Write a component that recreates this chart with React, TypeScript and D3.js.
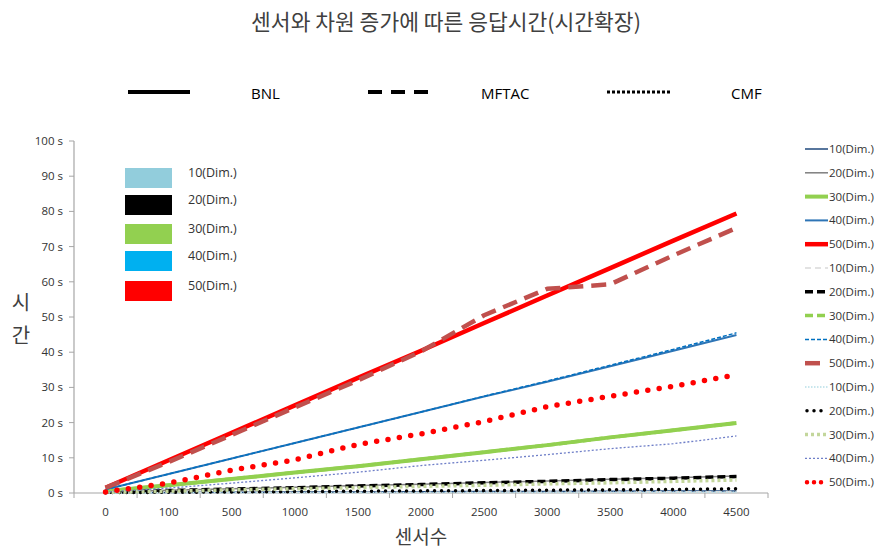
import React from "react";
import * as d3 from "d3";

const categories = ["0", "100", "500", "1000", "1500", "2000", "2500", "3000", "3500", "4000", "4500"];
const yTicks = [0, 10, 20, 30, 40, 50, 60, 70, 80, 90, 100];

// BNL (solid)
const bnl10 = [0.1, 0.15, 0.2, 0.25, 0.3, 0.35, 0.4, 0.45, 0.5, 0.55, 0.6];
const bnl20 = [0.3, 0.8, 1.2, 1.6, 2.1, 2.5, 3.0, 3.4, 3.9, 4.3, 4.8];
const bnl30 = [0.5, 2.2, 4.0, 5.8, 7.6, 9.6, 11.6, 13.6, 15.8, 17.8, 19.9];
const bnl40 = [1.0, 5.4, 9.8, 14.2, 18.6, 23.0, 27.4, 31.6, 36.0, 40.4, 44.9];
const bnl50 = [1.5, 9.3, 17.1, 24.9, 32.7, 40.4, 48.3, 56.1, 63.9, 71.7, 79.4];
// MFTAC (dashed)
const mftac10 = [0.05, 0.1, 0.1, 0.15, 0.2, 0.2, 0.25, 0.3, 0.3, 0.35, 0.4];
const mftac20 = [0.2, 0.7, 1.1, 1.5, 2.0, 2.4, 2.9, 3.3, 3.8, 4.2, 4.7];
const mftac30 = [0.5, 2.2, 4.0, 5.8, 7.6, 9.6, 11.6, 13.6, 15.8, 17.8, 19.9];
const mftac40 = [1.0, 5.4, 9.8, 14.2, 18.6, 23.0, 27.5, 31.8, 36.3, 40.8, 45.5];
const mftac50 = [1.5, 8.8, 16.5, 24.3, 32.0, 40.2, 50.5, 58.0, 59.3, 67.5, 75.3];
// CMF (dotted)
const cmf10 = [0.0, 0.05, 0.05, 0.1, 0.1, 0.1, 0.15, 0.15, 0.2, 0.2, 0.2];
const cmf20 = [0.1, 0.2, 0.3, 0.4, 0.5, 0.6, 0.7, 0.8, 0.9, 1.0, 1.2];
const cmf30 = [0.2, 0.5, 0.9, 1.2, 1.5, 1.9, 2.2, 2.6, 2.9, 3.3, 3.7];
const cmf40 = [0.3, 1.4, 2.8, 4.3, 5.9, 7.8, 9.3, 10.9, 12.6, 14.0, 16.2];
const cmf50 = [0.3, 2.8, 6.5, 9.4, 13.8, 16.8, 20.3, 24.5, 27.5, 30.3, 33.6];

const dimLabels = ["10(Dim.)", "20(Dim.)", "30(Dim.)", "40(Dim.)", "50(Dim.)"];
const methodLabels = ["BNL", "MFTAC", "CMF"];

type S = { values: number[]; color: string; width: number; dash?: string; cap?: string };

const seriesList: S[] = [
  { values: bnl10, color: "#1f497d", width: 1.5 },
  { values: bnl20, color: "#7f7f7f", width: 1.5 },
  { values: bnl30, color: "#92d050", width: 4 },
  { values: bnl40, color: "#2e75b6", width: 2 },
  { values: bnl50, color: "#ff0000", width: 4.5 },
  { values: mftac10, color: "#d9d9d9", width: 1.5, dash: "6 4" },
  { values: mftac20, color: "#000000", width: 3.5, dash: "8 4" },
  { values: mftac30, color: "#92d050", width: 3.5, dash: "8 4" },
  { values: mftac40, color: "#0070c0", width: 1.5, dash: "4 2" },
  { values: mftac50, color: "#c0504d", width: 4.5, dash: "15 8" },
  { values: cmf10, color: "#b7dee8", width: 1.5, dash: "1.5 1.5" },
  { values: cmf20, color: "#000000", width: 3.5, dash: "0 7", cap: "round" },
  { values: cmf30, color: "#c3d69b", width: 3.5, dash: "3 3" },
  { values: cmf40, color: "#6f7fc8", width: 1.3, dash: "2 2" },
  { values: cmf50, color: "#ff0000", width: 5.5, dash: "0 11.5", cap: "round" },
];

const boxColors = ["#92cddc", "#000000", "#92d050", "#00b0f0", "#ff0000"];

const KFONT = "'Noto Sans CJK KR', 'Noto Sans', sans-serif";
const NFONT = "'Open Sans', 'Noto Sans', sans-serif";

export default function App() {
  const x = d3.scaleBand<string>().domain(categories).range([74, 768]);
  const y = d3.scaleLinear().domain([0, 100]).range([493, 141]);
  const line = d3
    .line<number>()
    .x((_, i) => (x(categories[i]) as number) + x.bandwidth() / 2)
    .y((d) => y(d));

  const bounds = categories.map((c) => x(c) as number).concat([768]);

  return (
    <svg width={876} height={549} style={{ position: "absolute", left: 0, top: 0, background: "#fff" }}>
      <rect x={0} y={0} width={876} height={549} fill="#fff" />
      <text x={446} y={30} textAnchor="middle" fontFamily={KFONT} fontSize={21.5} fill="#404040">
        센서와 차원 증가에 따른 응답시간(시간확장)
      </text>

      {/* top legend */}
      <line x1={128} x2={190} y1={92} y2={92} stroke="#000" strokeWidth={4} />
      <text x={251} y={99} fontFamily={NFONT} fontSize={15} fill="#000">{methodLabels[0]}</text>
      <line x1={368} x2={432} y1={92} y2={92} stroke="#000" strokeWidth={4} strokeDasharray="14 9" />
      <text x={481} y={99} fontFamily={NFONT} fontSize={15} fill="#000">{methodLabels[1]}</text>
      <line x1={607} x2={670} y1={92} y2={92} stroke="#000" strokeWidth={3} strokeDasharray="3 2" />
      <text x={731} y={99} fontFamily={NFONT} fontSize={15} fill="#000">{methodLabels[2]}</text>

      {/* axes */}
      <line x1={74} x2={74} y1={141} y2={493} stroke="#a6a6a6" strokeWidth={1.2} />
      <line x1={74} x2={768} y1={493} y2={493} stroke="#a6a6a6" strokeWidth={1.2} />
      {yTicks.map((t) => (
        <g key={t}>
          <line x1={69} x2={74} y1={y(t)} y2={y(t)} stroke="#a6a6a6" />
          <text x={63} y={y(t) + 4} textAnchor="end" fontFamily={NFONT} fontSize={11.5} fill="#333">
            {t} s
          </text>
        </g>
      ))}
      {bounds.map((b, i) => (
        <line key={i} x1={b} x2={b} y1={493} y2={498} stroke="#a6a6a6" />
      ))}
      {categories.map((c) => (
        <text key={c} x={(x(c) as number) + x.bandwidth() / 2} y={516} textAnchor="middle" fontFamily={NFONT} fontSize={11.5} fill="#333">
          {c}
        </text>
      ))}
      <text x={421} y={544} textAnchor="middle" fontFamily={KFONT} fontSize={19} fill="#404040">센서수</text>
      <text x={21} y={310} textAnchor="middle" fontFamily={KFONT} fontSize={20} fill="#404040">시</text>
      <text x={21} y={343} textAnchor="middle" fontFamily={KFONT} fontSize={20} fill="#404040">간</text>

      {/* series */}
      {seriesList.map((s, i) => (
        <path
          key={i}
          d={line(s.values) as string}
          fill="none"
          stroke={s.color}
          strokeWidth={s.width}
          strokeDasharray={s.dash}
          strokeLinecap={(s.cap as any) || "butt"}
          strokeLinejoin="round"
        />
      ))}

      {/* left box legend */}
      {dimLabels.map((d, i) => {
        const ys = [168, 195, 224, 251, 281][i];
        return (
          <g key={d}>
            <rect x={125} y={ys} width={47} height={20} fill={boxColors[i]} />
            <text x={188} y={ys + 9} fontFamily={NFONT} fontSize={12.5} fill="#333">{d}</text>
          </g>
        );
      })}

      {/* right legend */}
      {seriesList.map((s, i) => {
        const yy = 149 + 23.8 * i;
        return (
          <g key={i}>
            <line
              x1={s.cap ? 807 : 805}
              x2={828}
              y1={yy}
              y2={yy}
              stroke={s.color}
              strokeWidth={Math.min(s.width, 4.5)}
              strokeDasharray={s.dash ? (s.cap ? "0 7" : s.dash) : undefined}
              strokeLinecap={(s.cap as any) || "butt"}
            />
            <text x={829} y={yy + 4} fontFamily={NFONT} fontSize={11.5} fill="#333">{dimLabels[i % 5]}</text>
          </g>
        );
      })}
    </svg>
  );
}
